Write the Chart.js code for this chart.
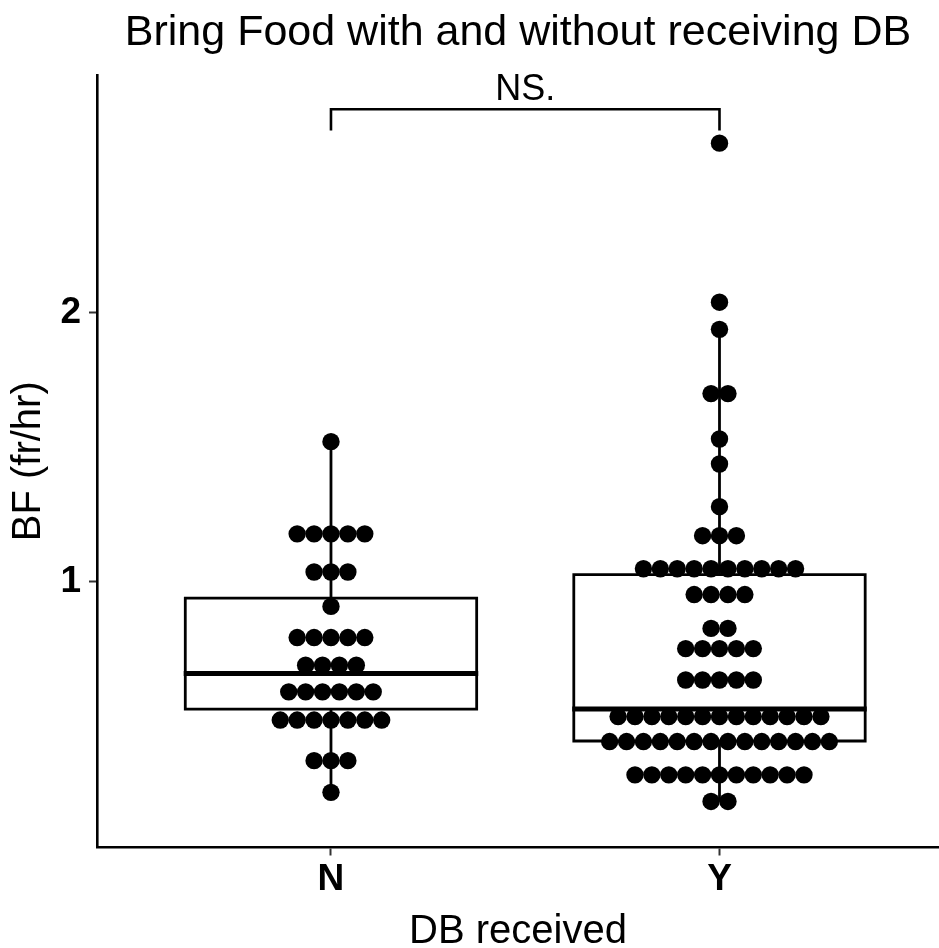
<!DOCTYPE html>
<html>
<head>
<meta charset="utf-8">
<script src="https://cdn.jsdelivr.net/npm/chart.js@4.4.0/dist/chart.umd.min.js"></script>
<style>
html,body{margin:0;padding:0;background:#ffffff;}
canvas{display:block;}
</style>
</head>
<body>
<canvas id="chart" width="939" height="948"></canvas>
<script>
// ---------- data ----------
const categories = ['N', 'Y'];
const valuesN = [
  1.520,
  1.177, 1.177, 1.177, 1.177, 1.177,
  1.035, 1.035, 1.035,
  0.907,
  0.791, 0.791, 0.791, 0.791, 0.791,
  0.688, 0.688, 0.688, 0.688,
  0.589, 0.589, 0.589, 0.589, 0.589, 0.589,
  0.484, 0.484, 0.484, 0.484, 0.484, 0.484, 0.484,
  0.333, 0.333, 0.333,
  0.215
];
const valuesY = [
  2.631,
  2.039,
  1.938,
  1.699, 1.699,
  1.530,
  1.437,
  1.278,
  1.170, 1.170, 1.170,
  1.047, 1.047, 1.047, 1.047, 1.047, 1.047, 1.047, 1.047, 1.047, 1.047,
  0.951, 0.951, 0.951, 0.951,
  0.825, 0.825,
  0.750, 0.750, 0.750, 0.750, 0.750,
  0.633, 0.633, 0.633, 0.633, 0.633,
  0.497, 0.497, 0.497, 0.497, 0.497, 0.497, 0.497, 0.497, 0.497, 0.497, 0.497, 0.497, 0.497,
  0.404, 0.404, 0.404, 0.404, 0.404, 0.404, 0.404, 0.404, 0.404, 0.404, 0.404, 0.404, 0.404, 0.404,
  0.280, 0.280, 0.280, 0.280, 0.280, 0.280, 0.280, 0.280, 0.280, 0.280, 0.280,
  0.181, 0.181
];
const whiskerLow  = [0.215, 0.181];
const boxQ1       = [0.525, 0.406];
const boxMedian   = [0.657, 0.525];
const boxQ3       = [0.938, 1.025];
const whiskerHigh = [1.520, 1.938];
const yTickValues = [1, 2];
const signifLabel = 'NS.';

// ---------- layout / style constants ----------
const BOX_HALF = 0.375;      // half box width (category units)
const DOT_STEP = 0.0435;     // horizontal spacing of stacked dots
const BRACKET_TOP = 2.757;
const BRACKET_LEG = 2.678;
const LABEL_Y = 2.829;
const FONT = '"Liberation Sans", Arial, sans-serif';

// stacked (centred) dot positions
function dotPoints(values, gi) {
  const counts = {};
  values.forEach(v => { counts[v] = (counts[v] || 0) + 1; });
  const seen = {};
  return values.map(v => {
    const k = seen[v] || 0; seen[v] = k + 1;
    return { x: gi + (k - (counts[v] - 1) / 2) * DOT_STEP, y: v };
  });
}
const allDots = dotPoints(valuesN, 0).concat(dotPoints(valuesY, 1));

const lineBase = {
  type: 'scatter', showLine: true, pointRadius: 0, pointHoverRadius: 0,
  borderColor: '#000000', fill: false, tension: 0,
  borderCapStyle: 'square', borderJoinStyle: 'miter'
};

const datasets = [{
  type: 'scatter', label: 'dots', data: allDots,
  pointRadius: 8.7, pointHoverRadius: 8.7, backgroundColor: '#000000',
  borderWidth: 0, order: 0
}];

categories.forEach((c, i) => {
  datasets.push(Object.assign({}, lineBase, {
    label: 'box ' + c, borderWidth: 2.8, order: 3,
    data: [
      { x: i - BOX_HALF, y: boxQ1[i] }, { x: i + BOX_HALF, y: boxQ1[i] },
      { x: i + BOX_HALF, y: boxQ3[i] }, { x: i - BOX_HALF, y: boxQ3[i] },
      { x: i - BOX_HALF, y: boxQ1[i] }
    ]
  }));
  datasets.push(Object.assign({}, lineBase, {
    label: 'median ' + c, borderWidth: 5, borderCapStyle: 'butt', order: 2,
    data: [{ x: i - BOX_HALF - 0.004, y: boxMedian[i] }, { x: i + BOX_HALF + 0.004, y: boxMedian[i] }]
  }));
  datasets.push(Object.assign({}, lineBase, {
    label: 'upper whisker ' + c, borderWidth: 2.8, borderCapStyle: 'butt', order: 1,
    data: [{ x: i, y: boxQ3[i] }, { x: i, y: whiskerHigh[i] }]
  }));
  datasets.push(Object.assign({}, lineBase, {
    label: 'lower whisker ' + c, borderWidth: 2.8, borderCapStyle: 'butt', order: 1,
    data: [{ x: i, y: whiskerLow[i] }, { x: i, y: boxQ1[i] }]
  }));
});

datasets.push(Object.assign({}, lineBase, {
  label: 'bracket', borderWidth: 2.6, borderCapStyle: 'butt', order: 1,
  data: [{ x: 0, y: BRACKET_LEG }, { x: 0, y: BRACKET_TOP }, { x: 1, y: BRACKET_TOP }, { x: 1, y: BRACKET_LEG }]
}));

const signifPlugin = {
  id: 'signif',
  afterDatasetsDraw(chart) {
    const { ctx, scales } = chart;
    ctx.save();
    ctx.font = '36px ' + FONT;
    ctx.fillStyle = '#000000';
    ctx.textAlign = 'center';
    ctx.textBaseline = 'middle';
    ctx.fillText(signifLabel, scales.x.getPixelForValue(0.5), scales.y.getPixelForValue(LABEL_Y));
    ctx.restore();
  }
};

new Chart(document.getElementById('chart'), {
  type: 'scatter',
  data: { datasets },
  plugins: [signifPlugin],
  options: {
    responsive: false,
    animation: false,
    events: [],
    layout: { padding: 0, autoPadding: false },
    plugins: {
      legend: { display: false },
      tooltip: { enabled: false },
      title: {
        display: true,
        text: 'Bring Food with and without receiving DB',
        color: '#000000',
        fullSize: false,
        font: { family: FONT, size: 43, weight: 'normal', lineHeight: 1.2 },
        padding: { top: 7, bottom: 16.4 }
      }
    },
    scales: {
      x: {
        type: 'linear',
        min: -0.6023,
        max: 1.565,
        afterBuildTicks: (scale) => { scale.ticks = categories.map((c, i) => ({ value: i })); },
        ticks: {
          callback: (v) => categories[v],
          color: '#000000',
          padding: 2,
          maxRotation: 0,
          font: { family: FONT, size: 37, weight: 'bold', lineHeight: 1.2 }
        },
        grid: { display: true, drawOnChartArea: false, drawTicks: true, tickLength: 8, tickColor: '#333333', tickWidth: 2 },
        border: { display: true, color: '#000000', width: 2.6 },
        title: {
          display: true, text: 'DB received', color: '#000000',
          font: { family: FONT, size: 40, weight: 'normal', lineHeight: 0.8 },
          padding: { top: 11.6, bottom: 0.5 }
        }
      },
      y: {
        type: 'linear',
        min: 0.0097,
        max: 2.8846,
        afterBuildTicks: (scale) => { scale.ticks = yTickValues.map(v => ({ value: v })); },
        ticks: {
          callback: (v) => String(v),
          color: '#000000',
          padding: 8,
          font: { family: FONT, size: 37, weight: 'bold', lineHeight: 1.2 }
        },
        grid: { display: true, drawOnChartArea: false, drawTicks: true, tickLength: 8, tickColor: '#333333', tickWidth: 2 },
        border: { display: true, color: '#000000', width: 2.6 },
        title: {
          display: true, text: 'BF (fr/hr)', color: '#000000',
          font: { family: FONT, size: 40, weight: 'normal', lineHeight: 1.2 },
          padding: { top: 5.4, bottom: -1 }
        }
      }
    }
  }
});
</script>
</body>
</html>
